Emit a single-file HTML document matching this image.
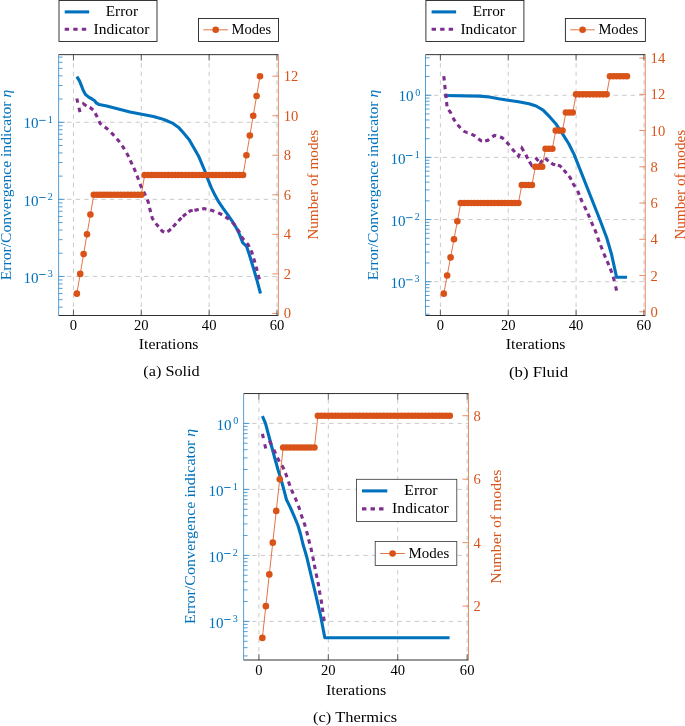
<!DOCTYPE html>
<html><head><meta charset="utf-8"><style>
html,body{margin:0;padding:0;background:#fff;}
svg{display:block;will-change:transform;}
text{font-family:"Liberation Serif", serif;}
</style></head><body>
<svg width="685" height="726" viewBox="0 0 685 726">
<rect width="685" height="726" fill="#fff"/>
<line x1="73.45" y1="315.5" x2="73.45" y2="54.65" stroke="#bdbdbd" stroke-width="0.8" stroke-dasharray="4.4 4.15"/>
<line x1="141.29" y1="315.5" x2="141.29" y2="54.65" stroke="#bdbdbd" stroke-width="0.8" stroke-dasharray="4.4 4.15"/>
<line x1="209.13" y1="315.5" x2="209.13" y2="54.65" stroke="#bdbdbd" stroke-width="0.8" stroke-dasharray="4.4 4.15"/>
<line x1="276.97" y1="315.5" x2="276.97" y2="54.65" stroke="#bdbdbd" stroke-width="0.8" stroke-dasharray="4.4 4.15"/>
<line x1="58.6" y1="122.25" x2="278.4" y2="122.25" stroke="#bdbdbd" stroke-width="0.8" stroke-dasharray="4.4 4.15"/>
<line x1="58.6" y1="199.35" x2="278.4" y2="199.35" stroke="#bdbdbd" stroke-width="0.8" stroke-dasharray="4.4 4.15"/>
<line x1="58.6" y1="276.45" x2="278.4" y2="276.45" stroke="#bdbdbd" stroke-width="0.8" stroke-dasharray="4.4 4.15"/>
<line x1="58.6" y1="307.13" x2="62.6" y2="307.13" stroke="#2b86cc" stroke-width="0.8"/>
<line x1="58.6" y1="299.66" x2="62.6" y2="299.66" stroke="#2b86cc" stroke-width="0.8"/>
<line x1="58.6" y1="293.55" x2="62.6" y2="293.55" stroke="#2b86cc" stroke-width="0.8"/>
<line x1="58.6" y1="288.39" x2="62.6" y2="288.39" stroke="#2b86cc" stroke-width="0.8"/>
<line x1="58.6" y1="283.92" x2="62.6" y2="283.92" stroke="#2b86cc" stroke-width="0.8"/>
<line x1="58.6" y1="279.98" x2="62.6" y2="279.98" stroke="#2b86cc" stroke-width="0.8"/>
<line x1="58.6" y1="253.24" x2="62.6" y2="253.24" stroke="#2b86cc" stroke-width="0.8"/>
<line x1="58.6" y1="239.66" x2="62.6" y2="239.66" stroke="#2b86cc" stroke-width="0.8"/>
<line x1="58.6" y1="230.03" x2="62.6" y2="230.03" stroke="#2b86cc" stroke-width="0.8"/>
<line x1="58.6" y1="222.56" x2="62.6" y2="222.56" stroke="#2b86cc" stroke-width="0.8"/>
<line x1="58.6" y1="216.45" x2="62.6" y2="216.45" stroke="#2b86cc" stroke-width="0.8"/>
<line x1="58.6" y1="211.29" x2="62.6" y2="211.29" stroke="#2b86cc" stroke-width="0.8"/>
<line x1="58.6" y1="206.82" x2="62.6" y2="206.82" stroke="#2b86cc" stroke-width="0.8"/>
<line x1="58.6" y1="202.88" x2="62.6" y2="202.88" stroke="#2b86cc" stroke-width="0.8"/>
<line x1="58.6" y1="176.14" x2="62.6" y2="176.14" stroke="#2b86cc" stroke-width="0.8"/>
<line x1="58.6" y1="162.56" x2="62.6" y2="162.56" stroke="#2b86cc" stroke-width="0.8"/>
<line x1="58.6" y1="152.93" x2="62.6" y2="152.93" stroke="#2b86cc" stroke-width="0.8"/>
<line x1="58.6" y1="145.46" x2="62.6" y2="145.46" stroke="#2b86cc" stroke-width="0.8"/>
<line x1="58.6" y1="139.35" x2="62.6" y2="139.35" stroke="#2b86cc" stroke-width="0.8"/>
<line x1="58.6" y1="134.19" x2="62.6" y2="134.19" stroke="#2b86cc" stroke-width="0.8"/>
<line x1="58.6" y1="129.72" x2="62.6" y2="129.72" stroke="#2b86cc" stroke-width="0.8"/>
<line x1="58.6" y1="125.78" x2="62.6" y2="125.78" stroke="#2b86cc" stroke-width="0.8"/>
<line x1="58.6" y1="99.04" x2="62.6" y2="99.04" stroke="#2b86cc" stroke-width="0.8"/>
<line x1="58.6" y1="85.46" x2="62.6" y2="85.46" stroke="#2b86cc" stroke-width="0.8"/>
<line x1="58.6" y1="75.83" x2="62.6" y2="75.83" stroke="#2b86cc" stroke-width="0.8"/>
<line x1="58.6" y1="68.36" x2="62.6" y2="68.36" stroke="#2b86cc" stroke-width="0.8"/>
<line x1="58.6" y1="62.25" x2="62.6" y2="62.25" stroke="#2b86cc" stroke-width="0.8"/>
<line x1="58.6" y1="57.09" x2="62.6" y2="57.09" stroke="#2b86cc" stroke-width="0.8"/>
<line x1="58.6" y1="122.25" x2="64.6" y2="122.25" stroke="#2b86cc" stroke-width="0.8"/>
<line x1="58.6" y1="199.35" x2="64.6" y2="199.35" stroke="#2b86cc" stroke-width="0.8"/>
<line x1="58.6" y1="276.45" x2="64.6" y2="276.45" stroke="#2b86cc" stroke-width="0.8"/>
<line x1="272.4" y1="313.42" x2="278.4" y2="313.42" stroke="#e0713f" stroke-width="0.8"/>
<line x1="272.4" y1="273.88" x2="278.4" y2="273.88" stroke="#e0713f" stroke-width="0.8"/>
<line x1="272.4" y1="234.34" x2="278.4" y2="234.34" stroke="#e0713f" stroke-width="0.8"/>
<line x1="272.4" y1="194.8" x2="278.4" y2="194.8" stroke="#e0713f" stroke-width="0.8"/>
<line x1="272.4" y1="155.26" x2="278.4" y2="155.26" stroke="#e0713f" stroke-width="0.8"/>
<line x1="272.4" y1="115.72" x2="278.4" y2="115.72" stroke="#e0713f" stroke-width="0.8"/>
<line x1="272.4" y1="76.18" x2="278.4" y2="76.18" stroke="#e0713f" stroke-width="0.8"/>
<line x1="73.45" y1="54.65" x2="73.45" y2="60.65" stroke="#444" stroke-width="0.8"/>
<line x1="73.45" y1="315.5" x2="73.45" y2="309.5" stroke="#444" stroke-width="0.8"/>
<line x1="141.29" y1="54.65" x2="141.29" y2="60.65" stroke="#444" stroke-width="0.8"/>
<line x1="141.29" y1="315.5" x2="141.29" y2="309.5" stroke="#444" stroke-width="0.8"/>
<line x1="209.13" y1="54.65" x2="209.13" y2="60.65" stroke="#444" stroke-width="0.8"/>
<line x1="209.13" y1="315.5" x2="209.13" y2="309.5" stroke="#444" stroke-width="0.8"/>
<line x1="276.97" y1="54.65" x2="276.97" y2="60.65" stroke="#444" stroke-width="0.8"/>
<line x1="276.97" y1="315.5" x2="276.97" y2="309.5" stroke="#444" stroke-width="0.8"/>
<line x1="58.6" y1="54.65" x2="278.4" y2="54.65" stroke="#1a1a1a" stroke-width="0.9"/>
<line x1="58.6" y1="315.5" x2="278.4" y2="315.5" stroke="#1a1a1a" stroke-width="0.9"/>
<line x1="58.6" y1="54.65" x2="58.6" y2="315.5" stroke="#2b86cc" stroke-width="0.8"/>
<line x1="278.4" y1="54.65" x2="278.4" y2="315.5" stroke="#e0713f" stroke-width="0.8"/>
<polyline points="76.85,76.6 79.5,80.9 81.6,86.1 83.4,90.8 85.5,94.5 88.7,97.1 92.3,99.2 94.7,100.8 96.5,103.2 99.1,104.5 106.7,106.1 118.4,109 130,111.9 141.7,114.3 153.4,116.6 160.4,118.4 165,120 172.4,123.1 178.6,127.4 183.6,133 189.2,139.8 193.5,147.2 198.5,155.9 202.2,164.6 205.3,172 208.4,180.7 211.5,188.1 215.2,195.6 218.9,202.2 223.3,208.6 227.7,214.7 232,220.8 236,227.4 239.5,234.4 242.8,242.9 246.4,246 248.8,252.9 251.5,261.8 254.2,270.8 256.8,279.7 260.5,293.5" fill="none" stroke="#0072BD" stroke-width="3.1" stroke-linejoin="round"/>
<path d="M76.8 98.5 L77.79 102.72 M78.97 107.76 L79.98 112.04 M83.27 104.89 L83.6 104 L86.46 105.93 M89.6 107.52 L90.4 107.9 L93.15 110.08 M95.25 113.33 L97.2 117 L97.3 117.22 M99.05 121.07 L100.2 123.6 L101.51 124.56 M104.72 126.9 L106.5 128.2 L108.09 129.72 M111.11 132.58 L112.7 134.1 L114.16 135.74 M116.89 138.79 L118.5 140.6 L119.64 142.21 M122.03 145.6 L123.3 147.4 L124.41 149.3 M126.59 153 L127.7 154.9 L128.64 156.89 M130.26 160.31 L131.2 162.3 L132.13 164.29 M133.77 167.81 L134.7 169.8 L135.5 171.85 M137 175.65 L137.8 177.7 L138.55 179.77 M140.05 183.93 L140.8 186 L141.79 187.96 M143.65 191.62 L144.5 193.3 L145.5 195.61 M147.22 199.58 L148.1 201.6 L148.61 203.74 M149.59 207.86 L150.1 210 L150.66 212.13 M151.74 216.17 L152.3 218.3 L153.57 220.1 M155.83 223.3 L157.1 225.1 L158.53 226.77 M160.83 229.48 L162.3 231.2 L164.26 232.06 M167.37 231.56 L169.3 230.5 L170.84 228.93 M173.01 226.72 L174.6 225.1 L176.05 223.54 M178.46 220.96 L180.1 219.2 L181.54 217.83 M182.91 216.52 L184.5 215 L186.29 213.72 M188.69 212.02 L190.4 210.8 L192.68 210.47 M194.42 210.22 L196.6 209.9 L198.77 209.52 M202.17 208.92 L204 208.6 L206.47 209.2 M210.16 210.08 L212.3 210.6 L214.35 211.4 M218.15 212.9 L220.2 213.7 L222.07 214.85 M225.33 216.85 L227.2 218 L228.84 219.47 M232.16 222.43 L233.8 223.9 L235.04 225.71 M237.36 229.09 L238.6 230.9 L239.64 232.84 M241.56 236.46 L242.6 238.4 L244.06 240.04 M246.84 243.16 L248.3 244.8 L249.24 246.79 M250.96 250.41 L251.9 252.4 L252.52 254.51 M253.68 258.39 L254.3 260.5 L254.91 262.61 M256.09 266.69 L256.7 268.8 L257.24 270.93 M258.26 274.97 L258.8 277.1 L259.45 279.2" fill="none" stroke="#7E2F8E" stroke-width="3.1" stroke-linejoin="miter" stroke-linecap="butt"/>
<polyline points="76.84,293.65 80.23,273.88 83.63,254.11 87.02,234.34 90.41,214.57 93.8,194.8 97.19,194.8 100.59,194.8 103.98,194.8 107.37,194.8 110.76,194.8 114.15,194.8 117.55,194.8 120.94,194.8 124.33,194.8 127.72,194.8 131.11,194.8 134.51,194.8 137.9,194.8 141.29,194.8 144.68,175.03 148.07,175.03 151.47,175.03 154.86,175.03 158.25,175.03 161.64,175.03 165.03,175.03 168.43,175.03 171.82,175.03 175.21,175.03 178.6,175.03 181.99,175.03 185.39,175.03 188.78,175.03 192.17,175.03 195.56,175.03 198.95,175.03 202.35,175.03 205.74,175.03 209.13,175.03 212.52,175.03 215.91,175.03 219.31,175.03 222.7,175.03 226.09,175.03 229.48,175.03 232.87,175.03 236.27,175.03 239.66,175.03 243.05,175.03 246.44,155.26 249.83,135.49 253.23,115.72 256.62,95.95 260.01,76.18" fill="none" stroke="#D95319" stroke-width="0.8"/>
<circle cx="76.84" cy="293.65" r="3.3" fill="#D95319"/>
<circle cx="80.23" cy="273.88" r="3.3" fill="#D95319"/>
<circle cx="83.63" cy="254.11" r="3.3" fill="#D95319"/>
<circle cx="87.02" cy="234.34" r="3.3" fill="#D95319"/>
<circle cx="90.41" cy="214.57" r="3.3" fill="#D95319"/>
<circle cx="93.8" cy="194.8" r="3.3" fill="#D95319"/>
<circle cx="97.19" cy="194.8" r="3.3" fill="#D95319"/>
<circle cx="100.59" cy="194.8" r="3.3" fill="#D95319"/>
<circle cx="103.98" cy="194.8" r="3.3" fill="#D95319"/>
<circle cx="107.37" cy="194.8" r="3.3" fill="#D95319"/>
<circle cx="110.76" cy="194.8" r="3.3" fill="#D95319"/>
<circle cx="114.15" cy="194.8" r="3.3" fill="#D95319"/>
<circle cx="117.55" cy="194.8" r="3.3" fill="#D95319"/>
<circle cx="120.94" cy="194.8" r="3.3" fill="#D95319"/>
<circle cx="124.33" cy="194.8" r="3.3" fill="#D95319"/>
<circle cx="127.72" cy="194.8" r="3.3" fill="#D95319"/>
<circle cx="131.11" cy="194.8" r="3.3" fill="#D95319"/>
<circle cx="134.51" cy="194.8" r="3.3" fill="#D95319"/>
<circle cx="137.9" cy="194.8" r="3.3" fill="#D95319"/>
<circle cx="141.29" cy="194.8" r="3.3" fill="#D95319"/>
<circle cx="144.68" cy="175.03" r="3.3" fill="#D95319"/>
<circle cx="148.07" cy="175.03" r="3.3" fill="#D95319"/>
<circle cx="151.47" cy="175.03" r="3.3" fill="#D95319"/>
<circle cx="154.86" cy="175.03" r="3.3" fill="#D95319"/>
<circle cx="158.25" cy="175.03" r="3.3" fill="#D95319"/>
<circle cx="161.64" cy="175.03" r="3.3" fill="#D95319"/>
<circle cx="165.03" cy="175.03" r="3.3" fill="#D95319"/>
<circle cx="168.43" cy="175.03" r="3.3" fill="#D95319"/>
<circle cx="171.82" cy="175.03" r="3.3" fill="#D95319"/>
<circle cx="175.21" cy="175.03" r="3.3" fill="#D95319"/>
<circle cx="178.6" cy="175.03" r="3.3" fill="#D95319"/>
<circle cx="181.99" cy="175.03" r="3.3" fill="#D95319"/>
<circle cx="185.39" cy="175.03" r="3.3" fill="#D95319"/>
<circle cx="188.78" cy="175.03" r="3.3" fill="#D95319"/>
<circle cx="192.17" cy="175.03" r="3.3" fill="#D95319"/>
<circle cx="195.56" cy="175.03" r="3.3" fill="#D95319"/>
<circle cx="198.95" cy="175.03" r="3.3" fill="#D95319"/>
<circle cx="202.35" cy="175.03" r="3.3" fill="#D95319"/>
<circle cx="205.74" cy="175.03" r="3.3" fill="#D95319"/>
<circle cx="209.13" cy="175.03" r="3.3" fill="#D95319"/>
<circle cx="212.52" cy="175.03" r="3.3" fill="#D95319"/>
<circle cx="215.91" cy="175.03" r="3.3" fill="#D95319"/>
<circle cx="219.31" cy="175.03" r="3.3" fill="#D95319"/>
<circle cx="222.7" cy="175.03" r="3.3" fill="#D95319"/>
<circle cx="226.09" cy="175.03" r="3.3" fill="#D95319"/>
<circle cx="229.48" cy="175.03" r="3.3" fill="#D95319"/>
<circle cx="232.87" cy="175.03" r="3.3" fill="#D95319"/>
<circle cx="236.27" cy="175.03" r="3.3" fill="#D95319"/>
<circle cx="239.66" cy="175.03" r="3.3" fill="#D95319"/>
<circle cx="243.05" cy="175.03" r="3.3" fill="#D95319"/>
<circle cx="246.44" cy="155.26" r="3.3" fill="#D95319"/>
<circle cx="249.83" cy="135.49" r="3.3" fill="#D95319"/>
<circle cx="253.23" cy="115.72" r="3.3" fill="#D95319"/>
<circle cx="256.62" cy="95.95" r="3.3" fill="#D95319"/>
<circle cx="260.01" cy="76.18" r="3.3" fill="#D95319"/>
<text x="73.45" y="330.1" font-size="14.6" fill="#000" text-anchor="middle">0</text>
<text x="141.29" y="330.1" font-size="14.6" fill="#000" text-anchor="middle">20</text>
<text x="209.13" y="330.1" font-size="14.6" fill="#000" text-anchor="middle">40</text>
<text x="276.97" y="330.1" font-size="14.6" fill="#000" text-anchor="middle">60</text>
<rect x="39.2" y="119.9" width="6.4" height="0.9" fill="#0072BD"/>
<text x="47.86" y="122.85" font-size="10.1" fill="#0072BD">1</text>
<text x="23.57" y="128.45" font-size="15.1" fill="#0072BD">10</text>
<rect x="39.2" y="197" width="6.4" height="0.9" fill="#0072BD"/>
<text x="47.81" y="199.95" font-size="10.1" fill="#0072BD">2</text>
<text x="23.57" y="205.55" font-size="15.1" fill="#0072BD">10</text>
<rect x="39.2" y="274.1" width="6.4" height="0.9" fill="#0072BD"/>
<text x="47.64" y="277.05" font-size="10.1" fill="#0072BD">3</text>
<text x="23.57" y="282.65" font-size="15.1" fill="#0072BD">10</text>
<text x="283.7" y="318.42" font-size="14.6" fill="#D95319">0</text>
<text x="283.7" y="278.88" font-size="14.6" fill="#D95319">2</text>
<text x="283.7" y="239.34" font-size="14.6" fill="#D95319">4</text>
<text x="283.7" y="199.8" font-size="14.6" fill="#D95319">6</text>
<text x="283.7" y="160.26" font-size="14.6" fill="#D95319">8</text>
<text x="283.7" y="120.72" font-size="14.6" fill="#D95319">10</text>
<text x="283.7" y="81.18" font-size="14.6" fill="#D95319">12</text>
<rect x="59" y="0.5" width="98" height="41" fill="#fff" stroke="#222" stroke-width="0.9"/>
<line x1="64.7" y1="11.9" x2="89.2" y2="11.9" stroke="#0072BD" stroke-width="3.1"/>
<line x1="64.7" y1="29.3" x2="89.2" y2="29.3" stroke="#7E2F8E" stroke-width="3.1" stroke-dasharray="4.4 4.15"/>
<text x="105.8" y="15.9" font-size="14.1" fill="#000" textLength="32.2" lengthAdjust="spacingAndGlyphs">Error</text>
<text x="93.5" y="33.8" font-size="14.1" fill="#000" textLength="56" lengthAdjust="spacingAndGlyphs">Indicator</text>
<rect x="198.5" y="18.5" width="80" height="23" fill="#fff" stroke="#222" stroke-width="0.9"/>
<line x1="203.3" y1="29.8" x2="227.9" y2="29.8" stroke="#D95319" stroke-width="0.8"/>
<circle cx="215.7" cy="29.8" r="3.3" fill="#D95319"/>
<text x="231.5" y="33.7" font-size="14.1" fill="#000" textLength="39.7" lengthAdjust="spacingAndGlyphs">Modes</text>
<text x="168.6" y="349.1" font-size="14.1" fill="#000" text-anchor="middle" textLength="59.7" lengthAdjust="spacingAndGlyphs">Iterations</text>
<text x="171.5" y="376.3" font-size="14.1" fill="#000" text-anchor="middle" textLength="56.4" lengthAdjust="spacingAndGlyphs">(a) Solid</text>
<text transform="translate(10.8,185.05) rotate(-90)" x="0" y="0" font-size="14.1" fill="#0072BD" text-anchor="middle" textLength="190.5" lengthAdjust="spacingAndGlyphs">Error/Convergence indicator <tspan font-style="italic">η</tspan></text>
<text transform="translate(318,184.75) rotate(-90)" x="0" y="0" font-size="14.1" fill="#D95319" text-anchor="middle" textLength="110.1" lengthAdjust="spacingAndGlyphs">Number of modes</text>
<line x1="440.4" y1="315.5" x2="440.4" y2="54.65" stroke="#bdbdbd" stroke-width="0.8" stroke-dasharray="4.4 4.15"/>
<line x1="508.24" y1="315.5" x2="508.24" y2="54.65" stroke="#bdbdbd" stroke-width="0.8" stroke-dasharray="4.4 4.15"/>
<line x1="576.08" y1="315.5" x2="576.08" y2="54.65" stroke="#bdbdbd" stroke-width="0.8" stroke-dasharray="4.4 4.15"/>
<line x1="643.92" y1="315.5" x2="643.92" y2="54.65" stroke="#bdbdbd" stroke-width="0.8" stroke-dasharray="4.4 4.15"/>
<line x1="425.5" y1="95.25" x2="645.3" y2="95.25" stroke="#bdbdbd" stroke-width="0.8" stroke-dasharray="4.4 4.15"/>
<line x1="425.5" y1="157.4" x2="645.3" y2="157.4" stroke="#bdbdbd" stroke-width="0.8" stroke-dasharray="4.4 4.15"/>
<line x1="425.5" y1="219.55" x2="645.3" y2="219.55" stroke="#bdbdbd" stroke-width="0.8" stroke-dasharray="4.4 4.15"/>
<line x1="425.5" y1="281.7" x2="645.3" y2="281.7" stroke="#bdbdbd" stroke-width="0.8" stroke-dasharray="4.4 4.15"/>
<line x1="425.5" y1="314.2" x2="429.5" y2="314.2" stroke="#2b86cc" stroke-width="0.8"/>
<line x1="425.5" y1="306.43" x2="429.5" y2="306.43" stroke="#2b86cc" stroke-width="0.8"/>
<line x1="425.5" y1="300.41" x2="429.5" y2="300.41" stroke="#2b86cc" stroke-width="0.8"/>
<line x1="425.5" y1="295.49" x2="429.5" y2="295.49" stroke="#2b86cc" stroke-width="0.8"/>
<line x1="425.5" y1="291.33" x2="429.5" y2="291.33" stroke="#2b86cc" stroke-width="0.8"/>
<line x1="425.5" y1="287.72" x2="429.5" y2="287.72" stroke="#2b86cc" stroke-width="0.8"/>
<line x1="425.5" y1="284.54" x2="429.5" y2="284.54" stroke="#2b86cc" stroke-width="0.8"/>
<line x1="425.5" y1="262.99" x2="429.5" y2="262.99" stroke="#2b86cc" stroke-width="0.8"/>
<line x1="425.5" y1="252.05" x2="429.5" y2="252.05" stroke="#2b86cc" stroke-width="0.8"/>
<line x1="425.5" y1="244.28" x2="429.5" y2="244.28" stroke="#2b86cc" stroke-width="0.8"/>
<line x1="425.5" y1="238.26" x2="429.5" y2="238.26" stroke="#2b86cc" stroke-width="0.8"/>
<line x1="425.5" y1="233.34" x2="429.5" y2="233.34" stroke="#2b86cc" stroke-width="0.8"/>
<line x1="425.5" y1="229.18" x2="429.5" y2="229.18" stroke="#2b86cc" stroke-width="0.8"/>
<line x1="425.5" y1="225.57" x2="429.5" y2="225.57" stroke="#2b86cc" stroke-width="0.8"/>
<line x1="425.5" y1="222.39" x2="429.5" y2="222.39" stroke="#2b86cc" stroke-width="0.8"/>
<line x1="425.5" y1="200.84" x2="429.5" y2="200.84" stroke="#2b86cc" stroke-width="0.8"/>
<line x1="425.5" y1="189.9" x2="429.5" y2="189.9" stroke="#2b86cc" stroke-width="0.8"/>
<line x1="425.5" y1="182.13" x2="429.5" y2="182.13" stroke="#2b86cc" stroke-width="0.8"/>
<line x1="425.5" y1="176.11" x2="429.5" y2="176.11" stroke="#2b86cc" stroke-width="0.8"/>
<line x1="425.5" y1="171.19" x2="429.5" y2="171.19" stroke="#2b86cc" stroke-width="0.8"/>
<line x1="425.5" y1="167.03" x2="429.5" y2="167.03" stroke="#2b86cc" stroke-width="0.8"/>
<line x1="425.5" y1="163.42" x2="429.5" y2="163.42" stroke="#2b86cc" stroke-width="0.8"/>
<line x1="425.5" y1="160.24" x2="429.5" y2="160.24" stroke="#2b86cc" stroke-width="0.8"/>
<line x1="425.5" y1="138.69" x2="429.5" y2="138.69" stroke="#2b86cc" stroke-width="0.8"/>
<line x1="425.5" y1="127.75" x2="429.5" y2="127.75" stroke="#2b86cc" stroke-width="0.8"/>
<line x1="425.5" y1="119.98" x2="429.5" y2="119.98" stroke="#2b86cc" stroke-width="0.8"/>
<line x1="425.5" y1="113.96" x2="429.5" y2="113.96" stroke="#2b86cc" stroke-width="0.8"/>
<line x1="425.5" y1="109.04" x2="429.5" y2="109.04" stroke="#2b86cc" stroke-width="0.8"/>
<line x1="425.5" y1="104.88" x2="429.5" y2="104.88" stroke="#2b86cc" stroke-width="0.8"/>
<line x1="425.5" y1="101.27" x2="429.5" y2="101.27" stroke="#2b86cc" stroke-width="0.8"/>
<line x1="425.5" y1="98.09" x2="429.5" y2="98.09" stroke="#2b86cc" stroke-width="0.8"/>
<line x1="425.5" y1="76.54" x2="429.5" y2="76.54" stroke="#2b86cc" stroke-width="0.8"/>
<line x1="425.5" y1="65.6" x2="429.5" y2="65.6" stroke="#2b86cc" stroke-width="0.8"/>
<line x1="425.5" y1="57.83" x2="429.5" y2="57.83" stroke="#2b86cc" stroke-width="0.8"/>
<line x1="425.5" y1="95.25" x2="431.5" y2="95.25" stroke="#2b86cc" stroke-width="0.8"/>
<line x1="425.5" y1="157.4" x2="431.5" y2="157.4" stroke="#2b86cc" stroke-width="0.8"/>
<line x1="425.5" y1="219.55" x2="431.5" y2="219.55" stroke="#2b86cc" stroke-width="0.8"/>
<line x1="425.5" y1="281.7" x2="431.5" y2="281.7" stroke="#2b86cc" stroke-width="0.8"/>
<line x1="639.3" y1="311.78" x2="645.3" y2="311.78" stroke="#e0713f" stroke-width="0.8"/>
<line x1="639.3" y1="275.54" x2="645.3" y2="275.54" stroke="#e0713f" stroke-width="0.8"/>
<line x1="639.3" y1="239.3" x2="645.3" y2="239.3" stroke="#e0713f" stroke-width="0.8"/>
<line x1="639.3" y1="203.06" x2="645.3" y2="203.06" stroke="#e0713f" stroke-width="0.8"/>
<line x1="639.3" y1="166.82" x2="645.3" y2="166.82" stroke="#e0713f" stroke-width="0.8"/>
<line x1="639.3" y1="130.58" x2="645.3" y2="130.58" stroke="#e0713f" stroke-width="0.8"/>
<line x1="639.3" y1="94.34" x2="645.3" y2="94.34" stroke="#e0713f" stroke-width="0.8"/>
<line x1="639.3" y1="58.1" x2="645.3" y2="58.1" stroke="#e0713f" stroke-width="0.8"/>
<line x1="440.4" y1="54.65" x2="440.4" y2="60.65" stroke="#444" stroke-width="0.8"/>
<line x1="440.4" y1="315.5" x2="440.4" y2="309.5" stroke="#444" stroke-width="0.8"/>
<line x1="508.24" y1="54.65" x2="508.24" y2="60.65" stroke="#444" stroke-width="0.8"/>
<line x1="508.24" y1="315.5" x2="508.24" y2="309.5" stroke="#444" stroke-width="0.8"/>
<line x1="576.08" y1="54.65" x2="576.08" y2="60.65" stroke="#444" stroke-width="0.8"/>
<line x1="576.08" y1="315.5" x2="576.08" y2="309.5" stroke="#444" stroke-width="0.8"/>
<line x1="643.92" y1="54.65" x2="643.92" y2="60.65" stroke="#444" stroke-width="0.8"/>
<line x1="643.92" y1="315.5" x2="643.92" y2="309.5" stroke="#444" stroke-width="0.8"/>
<line x1="425.5" y1="54.65" x2="645.3" y2="54.65" stroke="#1a1a1a" stroke-width="0.9"/>
<line x1="425.5" y1="315.5" x2="645.3" y2="315.5" stroke="#1a1a1a" stroke-width="0.9"/>
<line x1="425.5" y1="54.65" x2="425.5" y2="315.5" stroke="#2b86cc" stroke-width="0.8"/>
<line x1="645.3" y1="54.65" x2="645.3" y2="315.5" stroke="#e0713f" stroke-width="0.8"/>
<polyline points="444.2,95.5 480,96.1 489.3,97 498.7,98.8 508,100.2 518.5,101.7 529,103.7 536.1,106 543.1,110.1 550,117.2 556.2,124.3 562.4,133.6 568.6,143.5 574.2,154.6 580.1,169.6 590,194.8 600,220 606.7,237.7 611.5,254.2 616.6,277.3 627,277.3" fill="none" stroke="#0072BD" stroke-width="3.1" stroke-linejoin="round"/>
<path d="M443.81 76.12 L444.28 80.49 M444.74 84.89 L445.21 89.27 M445.68 93.69 L446.14 98.07 M446.56 102.02 L447.03 106.4 M448.65 109.92 L450.6 112.5 L451.1 113.55 M453.03 117.58 L454 119.6 L455.23 121.37 M457.58 124.7 L460.56 127.94 M463.61 130.84 L464.1 131.3 L467.5 132.8 L467.51 132.8 M471.36 134.2 L474.3 135.5 L475.22 136.25 M478.32 138.76 L481.1 140.8 L482.04 140.94 M485.16 141.11 L487.9 140.3 L489.09 139.32 M492.26 136.9 L494.5 135.5 L496.22 135.84 M500.03 136.94 L502.1 137.7 L503.66 139.26 M506.44 142.04 L508 143.6 L509.38 145.31 M512.12 148.69 L513.5 150.4 L514.94 152.07 M517.41 154.94 L518.5 156.2 L519.61 153.7 M521.53 149.35 L522 148.3 L523.7 151.07 M525.82 154.78 L527.74 158.74 M529.32 161.58 L531.6 165 L531.78 164.77 M535.54 159.91 L536.4 158.8 L538.43 160.99 M539.76 162.42 L540.3 163 L542.57 160.19 M545.12 158.31 L548.51 161.1 M551.3 163.07 L553.1 164.3 L555.27 164.77 M557.85 165.33 L560 165.8 L561.45 167.45 M563.65 169.95 L565.1 171.6 L566.51 173.29 M568.84 176.07 L570.3 177.8 L571.23 179.72 M572.88 183.12 L573.5 184.4 L575.3 186.77 M577.67 190.73 L579.27 194.83 M580.5 198 L581.2 199.8 L582.29 202.01 M584.33 206.13 L585.3 208.1 L586.23 210.09 M587.87 213.61 L588.8 215.6 L589.63 217.64 M591.37 221.86 L592.2 223.9 L593.1 225.91 M594.7 229.49 L595.6 231.5 L596.31 233.58 M597.69 237.62 L598.4 239.7 L599.21 241.75 M600.59 245.25 L601.4 247.3 L602.2 249.35 M603.8 253.45 L604.6 255.5 L605.5 257.51 M607.1 261.09 L608 263.1 L608.83 265.14 M610.27 268.66 L611.1 270.7 L611.79 272.79 M613.11 276.81 L613.8 278.9 L614.31 281.04 M615.57 286.35 L616.59 290.63" fill="none" stroke="#7E2F8E" stroke-width="3.1" stroke-linejoin="miter" stroke-linecap="butt"/>
<polyline points="443.79,293.66 447.18,275.54 450.58,257.42 453.97,239.3 457.36,221.18 460.75,203.06 464.14,203.06 467.54,203.06 470.93,203.06 474.32,203.06 477.71,203.06 481.1,203.06 484.5,203.06 487.89,203.06 491.28,203.06 494.67,203.06 498.06,203.06 501.46,203.06 504.85,203.06 508.24,203.06 511.63,203.06 515.02,203.06 518.42,203.06 521.81,184.94 525.2,184.94 528.59,184.94 531.98,184.94 535.38,166.82 538.77,166.82 542.16,166.82 545.55,148.7 548.94,148.7 552.34,148.7 555.73,130.58 559.12,130.58 562.51,130.58 565.9,112.46 569.3,112.46 572.69,112.46 576.08,94.34 579.47,94.34 582.86,94.34 586.26,94.34 589.65,94.34 593.04,94.34 596.43,94.34 599.82,94.34 603.22,94.34 606.61,94.34 610,76.22 613.39,76.22 616.78,76.22 620.18,76.22 623.57,76.22 626.96,76.22" fill="none" stroke="#D95319" stroke-width="0.8"/>
<circle cx="443.79" cy="293.66" r="3.3" fill="#D95319"/>
<circle cx="447.18" cy="275.54" r="3.3" fill="#D95319"/>
<circle cx="450.58" cy="257.42" r="3.3" fill="#D95319"/>
<circle cx="453.97" cy="239.3" r="3.3" fill="#D95319"/>
<circle cx="457.36" cy="221.18" r="3.3" fill="#D95319"/>
<circle cx="460.75" cy="203.06" r="3.3" fill="#D95319"/>
<circle cx="464.14" cy="203.06" r="3.3" fill="#D95319"/>
<circle cx="467.54" cy="203.06" r="3.3" fill="#D95319"/>
<circle cx="470.93" cy="203.06" r="3.3" fill="#D95319"/>
<circle cx="474.32" cy="203.06" r="3.3" fill="#D95319"/>
<circle cx="477.71" cy="203.06" r="3.3" fill="#D95319"/>
<circle cx="481.1" cy="203.06" r="3.3" fill="#D95319"/>
<circle cx="484.5" cy="203.06" r="3.3" fill="#D95319"/>
<circle cx="487.89" cy="203.06" r="3.3" fill="#D95319"/>
<circle cx="491.28" cy="203.06" r="3.3" fill="#D95319"/>
<circle cx="494.67" cy="203.06" r="3.3" fill="#D95319"/>
<circle cx="498.06" cy="203.06" r="3.3" fill="#D95319"/>
<circle cx="501.46" cy="203.06" r="3.3" fill="#D95319"/>
<circle cx="504.85" cy="203.06" r="3.3" fill="#D95319"/>
<circle cx="508.24" cy="203.06" r="3.3" fill="#D95319"/>
<circle cx="511.63" cy="203.06" r="3.3" fill="#D95319"/>
<circle cx="515.02" cy="203.06" r="3.3" fill="#D95319"/>
<circle cx="518.42" cy="203.06" r="3.3" fill="#D95319"/>
<circle cx="521.81" cy="184.94" r="3.3" fill="#D95319"/>
<circle cx="525.2" cy="184.94" r="3.3" fill="#D95319"/>
<circle cx="528.59" cy="184.94" r="3.3" fill="#D95319"/>
<circle cx="531.98" cy="184.94" r="3.3" fill="#D95319"/>
<circle cx="535.38" cy="166.82" r="3.3" fill="#D95319"/>
<circle cx="538.77" cy="166.82" r="3.3" fill="#D95319"/>
<circle cx="542.16" cy="166.82" r="3.3" fill="#D95319"/>
<circle cx="545.55" cy="148.7" r="3.3" fill="#D95319"/>
<circle cx="548.94" cy="148.7" r="3.3" fill="#D95319"/>
<circle cx="552.34" cy="148.7" r="3.3" fill="#D95319"/>
<circle cx="555.73" cy="130.58" r="3.3" fill="#D95319"/>
<circle cx="559.12" cy="130.58" r="3.3" fill="#D95319"/>
<circle cx="562.51" cy="130.58" r="3.3" fill="#D95319"/>
<circle cx="565.9" cy="112.46" r="3.3" fill="#D95319"/>
<circle cx="569.3" cy="112.46" r="3.3" fill="#D95319"/>
<circle cx="572.69" cy="112.46" r="3.3" fill="#D95319"/>
<circle cx="576.08" cy="94.34" r="3.3" fill="#D95319"/>
<circle cx="579.47" cy="94.34" r="3.3" fill="#D95319"/>
<circle cx="582.86" cy="94.34" r="3.3" fill="#D95319"/>
<circle cx="586.26" cy="94.34" r="3.3" fill="#D95319"/>
<circle cx="589.65" cy="94.34" r="3.3" fill="#D95319"/>
<circle cx="593.04" cy="94.34" r="3.3" fill="#D95319"/>
<circle cx="596.43" cy="94.34" r="3.3" fill="#D95319"/>
<circle cx="599.82" cy="94.34" r="3.3" fill="#D95319"/>
<circle cx="603.22" cy="94.34" r="3.3" fill="#D95319"/>
<circle cx="606.61" cy="94.34" r="3.3" fill="#D95319"/>
<circle cx="610" cy="76.22" r="3.3" fill="#D95319"/>
<circle cx="613.39" cy="76.22" r="3.3" fill="#D95319"/>
<circle cx="616.78" cy="76.22" r="3.3" fill="#D95319"/>
<circle cx="620.18" cy="76.22" r="3.3" fill="#D95319"/>
<circle cx="623.57" cy="76.22" r="3.3" fill="#D95319"/>
<circle cx="626.96" cy="76.22" r="3.3" fill="#D95319"/>
<text x="440.4" y="330.1" font-size="14.6" fill="#000" text-anchor="middle">0</text>
<text x="508.24" y="330.1" font-size="14.6" fill="#000" text-anchor="middle">20</text>
<text x="576.08" y="330.1" font-size="14.6" fill="#000" text-anchor="middle">40</text>
<text x="643.92" y="330.1" font-size="14.6" fill="#000" text-anchor="middle">60</text>
<text x="415.23" y="95.85" font-size="10.1" fill="#0072BD">0</text>
<text x="398.47" y="101.45" font-size="15.1" fill="#0072BD">10</text>
<rect x="406.1" y="155.05" width="6.4" height="0.9" fill="#0072BD"/>
<text x="414.76" y="158" font-size="10.1" fill="#0072BD">1</text>
<text x="390.47" y="163.6" font-size="15.1" fill="#0072BD">10</text>
<rect x="406.1" y="217.2" width="6.4" height="0.9" fill="#0072BD"/>
<text x="414.71" y="220.15" font-size="10.1" fill="#0072BD">2</text>
<text x="390.47" y="225.75" font-size="15.1" fill="#0072BD">10</text>
<rect x="406.1" y="279.35" width="6.4" height="0.9" fill="#0072BD"/>
<text x="414.54" y="282.3" font-size="10.1" fill="#0072BD">3</text>
<text x="390.47" y="287.9" font-size="15.1" fill="#0072BD">10</text>
<text x="650.6" y="316.78" font-size="14.6" fill="#D95319">0</text>
<text x="650.6" y="280.54" font-size="14.6" fill="#D95319">2</text>
<text x="650.6" y="244.3" font-size="14.6" fill="#D95319">4</text>
<text x="650.6" y="208.06" font-size="14.6" fill="#D95319">6</text>
<text x="650.6" y="171.82" font-size="14.6" fill="#D95319">8</text>
<text x="650.6" y="135.58" font-size="14.6" fill="#D95319">10</text>
<text x="650.6" y="99.34" font-size="14.6" fill="#D95319">12</text>
<text x="650.6" y="63.1" font-size="14.6" fill="#D95319">14</text>
<rect x="425.9" y="0.5" width="98" height="41" fill="#fff" stroke="#222" stroke-width="0.9"/>
<line x1="431.6" y1="11.9" x2="456.1" y2="11.9" stroke="#0072BD" stroke-width="3.1"/>
<line x1="431.6" y1="29.3" x2="456.1" y2="29.3" stroke="#7E2F8E" stroke-width="3.1" stroke-dasharray="4.4 4.15"/>
<text x="472.7" y="15.9" font-size="14.1" fill="#000" textLength="32.2" lengthAdjust="spacingAndGlyphs">Error</text>
<text x="460.4" y="33.8" font-size="14.1" fill="#000" textLength="56" lengthAdjust="spacingAndGlyphs">Indicator</text>
<rect x="565.4" y="18.5" width="80" height="23" fill="#fff" stroke="#222" stroke-width="0.9"/>
<line x1="570.2" y1="29.8" x2="594.8" y2="29.8" stroke="#D95319" stroke-width="0.8"/>
<circle cx="582.6" cy="29.8" r="3.3" fill="#D95319"/>
<text x="598.4" y="33.7" font-size="14.1" fill="#000" textLength="39.7" lengthAdjust="spacingAndGlyphs">Modes</text>
<text x="535.65" y="349.2" font-size="14.1" fill="#000" text-anchor="middle" textLength="59.7" lengthAdjust="spacingAndGlyphs">Iterations</text>
<text x="538.5" y="376.5" font-size="14.1" fill="#000" text-anchor="middle" textLength="59.1" lengthAdjust="spacingAndGlyphs">(b) Fluid</text>
<text transform="translate(377.7,185.05) rotate(-90)" x="0" y="0" font-size="14.1" fill="#0072BD" text-anchor="middle" textLength="190.5" lengthAdjust="spacingAndGlyphs">Error/Convergence indicator <tspan font-style="italic">η</tspan></text>
<text transform="translate(685,184.75) rotate(-90)" x="0" y="0" font-size="14.1" fill="#D95319" text-anchor="middle" textLength="110.1" lengthAdjust="spacingAndGlyphs">Number of modes</text>
<line x1="258.9" y1="660" x2="258.9" y2="393.55" stroke="#bdbdbd" stroke-width="0.8" stroke-dasharray="4.4 4.15"/>
<line x1="328.32" y1="660" x2="328.32" y2="393.55" stroke="#bdbdbd" stroke-width="0.8" stroke-dasharray="4.4 4.15"/>
<line x1="397.74" y1="660" x2="397.74" y2="393.55" stroke="#bdbdbd" stroke-width="0.8" stroke-dasharray="4.4 4.15"/>
<line x1="467.16" y1="660" x2="467.16" y2="393.55" stroke="#bdbdbd" stroke-width="0.8" stroke-dasharray="4.4 4.15"/>
<line x1="243.6" y1="423.4" x2="468.5" y2="423.4" stroke="#bdbdbd" stroke-width="0.8" stroke-dasharray="4.4 4.15"/>
<line x1="243.6" y1="489.4" x2="468.5" y2="489.4" stroke="#bdbdbd" stroke-width="0.8" stroke-dasharray="4.4 4.15"/>
<line x1="243.6" y1="555.4" x2="468.5" y2="555.4" stroke="#bdbdbd" stroke-width="0.8" stroke-dasharray="4.4 4.15"/>
<line x1="243.6" y1="621.4" x2="468.5" y2="621.4" stroke="#bdbdbd" stroke-width="0.8" stroke-dasharray="4.4 4.15"/>
<line x1="243.6" y1="655.91" x2="247.6" y2="655.91" stroke="#2b86cc" stroke-width="0.8"/>
<line x1="243.6" y1="647.66" x2="247.6" y2="647.66" stroke="#2b86cc" stroke-width="0.8"/>
<line x1="243.6" y1="641.27" x2="247.6" y2="641.27" stroke="#2b86cc" stroke-width="0.8"/>
<line x1="243.6" y1="636.04" x2="247.6" y2="636.04" stroke="#2b86cc" stroke-width="0.8"/>
<line x1="243.6" y1="631.62" x2="247.6" y2="631.62" stroke="#2b86cc" stroke-width="0.8"/>
<line x1="243.6" y1="627.8" x2="247.6" y2="627.8" stroke="#2b86cc" stroke-width="0.8"/>
<line x1="243.6" y1="624.42" x2="247.6" y2="624.42" stroke="#2b86cc" stroke-width="0.8"/>
<line x1="243.6" y1="601.53" x2="247.6" y2="601.53" stroke="#2b86cc" stroke-width="0.8"/>
<line x1="243.6" y1="589.91" x2="247.6" y2="589.91" stroke="#2b86cc" stroke-width="0.8"/>
<line x1="243.6" y1="581.66" x2="247.6" y2="581.66" stroke="#2b86cc" stroke-width="0.8"/>
<line x1="243.6" y1="575.27" x2="247.6" y2="575.27" stroke="#2b86cc" stroke-width="0.8"/>
<line x1="243.6" y1="570.04" x2="247.6" y2="570.04" stroke="#2b86cc" stroke-width="0.8"/>
<line x1="243.6" y1="565.62" x2="247.6" y2="565.62" stroke="#2b86cc" stroke-width="0.8"/>
<line x1="243.6" y1="561.8" x2="247.6" y2="561.8" stroke="#2b86cc" stroke-width="0.8"/>
<line x1="243.6" y1="558.42" x2="247.6" y2="558.42" stroke="#2b86cc" stroke-width="0.8"/>
<line x1="243.6" y1="535.53" x2="247.6" y2="535.53" stroke="#2b86cc" stroke-width="0.8"/>
<line x1="243.6" y1="523.91" x2="247.6" y2="523.91" stroke="#2b86cc" stroke-width="0.8"/>
<line x1="243.6" y1="515.66" x2="247.6" y2="515.66" stroke="#2b86cc" stroke-width="0.8"/>
<line x1="243.6" y1="509.27" x2="247.6" y2="509.27" stroke="#2b86cc" stroke-width="0.8"/>
<line x1="243.6" y1="504.04" x2="247.6" y2="504.04" stroke="#2b86cc" stroke-width="0.8"/>
<line x1="243.6" y1="499.62" x2="247.6" y2="499.62" stroke="#2b86cc" stroke-width="0.8"/>
<line x1="243.6" y1="495.8" x2="247.6" y2="495.8" stroke="#2b86cc" stroke-width="0.8"/>
<line x1="243.6" y1="492.42" x2="247.6" y2="492.42" stroke="#2b86cc" stroke-width="0.8"/>
<line x1="243.6" y1="469.53" x2="247.6" y2="469.53" stroke="#2b86cc" stroke-width="0.8"/>
<line x1="243.6" y1="457.91" x2="247.6" y2="457.91" stroke="#2b86cc" stroke-width="0.8"/>
<line x1="243.6" y1="449.66" x2="247.6" y2="449.66" stroke="#2b86cc" stroke-width="0.8"/>
<line x1="243.6" y1="443.27" x2="247.6" y2="443.27" stroke="#2b86cc" stroke-width="0.8"/>
<line x1="243.6" y1="438.04" x2="247.6" y2="438.04" stroke="#2b86cc" stroke-width="0.8"/>
<line x1="243.6" y1="433.62" x2="247.6" y2="433.62" stroke="#2b86cc" stroke-width="0.8"/>
<line x1="243.6" y1="429.8" x2="247.6" y2="429.8" stroke="#2b86cc" stroke-width="0.8"/>
<line x1="243.6" y1="426.42" x2="247.6" y2="426.42" stroke="#2b86cc" stroke-width="0.8"/>
<line x1="243.6" y1="423.4" x2="249.6" y2="423.4" stroke="#2b86cc" stroke-width="0.8"/>
<line x1="243.6" y1="489.4" x2="249.6" y2="489.4" stroke="#2b86cc" stroke-width="0.8"/>
<line x1="243.6" y1="555.4" x2="249.6" y2="555.4" stroke="#2b86cc" stroke-width="0.8"/>
<line x1="243.6" y1="621.4" x2="249.6" y2="621.4" stroke="#2b86cc" stroke-width="0.8"/>
<line x1="462.5" y1="606.14" x2="468.5" y2="606.14" stroke="#e0713f" stroke-width="0.8"/>
<line x1="462.5" y1="542.66" x2="468.5" y2="542.66" stroke="#e0713f" stroke-width="0.8"/>
<line x1="462.5" y1="479.18" x2="468.5" y2="479.18" stroke="#e0713f" stroke-width="0.8"/>
<line x1="462.5" y1="415.7" x2="468.5" y2="415.7" stroke="#e0713f" stroke-width="0.8"/>
<line x1="258.9" y1="393.55" x2="258.9" y2="399.55" stroke="#444" stroke-width="0.8"/>
<line x1="258.9" y1="660" x2="258.9" y2="654" stroke="#444" stroke-width="0.8"/>
<line x1="328.32" y1="393.55" x2="328.32" y2="399.55" stroke="#444" stroke-width="0.8"/>
<line x1="328.32" y1="660" x2="328.32" y2="654" stroke="#444" stroke-width="0.8"/>
<line x1="397.74" y1="393.55" x2="397.74" y2="399.55" stroke="#444" stroke-width="0.8"/>
<line x1="397.74" y1="660" x2="397.74" y2="654" stroke="#444" stroke-width="0.8"/>
<line x1="467.16" y1="393.55" x2="467.16" y2="399.55" stroke="#444" stroke-width="0.8"/>
<line x1="467.16" y1="660" x2="467.16" y2="654" stroke="#444" stroke-width="0.8"/>
<line x1="243.6" y1="393.55" x2="468.5" y2="393.55" stroke="#1a1a1a" stroke-width="0.9"/>
<line x1="243.6" y1="660" x2="468.5" y2="660" stroke="#1a1a1a" stroke-width="0.9"/>
<line x1="243.6" y1="393.55" x2="243.6" y2="660" stroke="#2b86cc" stroke-width="0.8"/>
<line x1="468.5" y1="393.55" x2="468.5" y2="660" stroke="#e0713f" stroke-width="0.8"/>
<polyline points="262.4,416.1 265.5,423.4 269.9,440 274.2,456 278.1,470 281.2,480 283.8,489.4 286.4,499.5 290.4,507.6 294.1,516.2 297.8,525 300.5,534 303.2,545 306.3,555.2 311,575 315.8,595 320.8,616.7 324.8,637.8 449.6,637.8" fill="none" stroke="#0072BD" stroke-width="3.1" stroke-linejoin="round"/>
<path d="M262.42 433.91 L263.38 438.2 M264.73 444.22 L265.69 448.51 M269.4 440.79 L271.36 444.73 M273.76 449.62 L275.64 453.6 M277.49 457.63 L279.31 461.64 M281.72 465.48 L283.1 467.5 L283.85 469.3 M285.42 473.11 L286.2 475 L286.97 477.22 M288.48 481.54 L289.2 483.6 L289.99 485.68 M291.5 489.61 L292.3 491.7 L293.2 493.67 M294.99 497.6 L296 499.8 L296.71 501.64 M298.31 505.75 L299.1 507.8 L299.75 509.9 M301.15 514.4 L301.8 516.5 L302.55 518.57 M303.95 522.43 L304.7 524.5 L305.29 526.62 M306.51 531.08 L307.1 533.2 L307.63 535.33 M308.62 539.28 L309.2 541.6 L309.7 543.54 M310.77 547.74 L311.3 549.8 L311.77 552.03 M312.72 556.53 L313.2 558.8 L313.59 560.84 M314.35 564.77 L314.8 567.1 L315.2 569.08 M316.11 573.56 L316.6 576 L317 577.86 M317.91 582.03 L318.4 584.3 L318.73 586.35 M319.4 590.5 L319.8 593 L320.14 594.84 M321 599.44 L321.4 601.6 L321.72 603.78 M322.28 607.62 L322.6 609.8 L322.91 611.98 M323.59 616.62 L323.9 618.8 L324.42 620.94" fill="none" stroke="#7E2F8E" stroke-width="3.1" stroke-linejoin="miter" stroke-linecap="butt"/>
<polyline points="262.37,637.88 265.84,606.14 269.31,574.4 272.78,542.66 276.25,510.92 279.73,479.18 283.2,447.44 286.67,447.44 290.14,447.44 293.61,447.44 297.08,447.44 300.55,447.44 304.02,447.44 307.49,447.44 310.96,447.44 314.44,447.44 317.91,415.7 321.38,415.7 324.85,415.7 328.32,415.7 331.79,415.7 335.26,415.7 338.73,415.7 342.2,415.7 345.67,415.7 349.15,415.7 352.62,415.7 356.09,415.7 359.56,415.7 363.03,415.7 366.5,415.7 369.97,415.7 373.44,415.7 376.91,415.7 380.38,415.7 383.86,415.7 387.33,415.7 390.8,415.7 394.27,415.7 397.74,415.7 401.21,415.7 404.68,415.7 408.15,415.7 411.62,415.7 415.09,415.7 418.57,415.7 422.04,415.7 425.51,415.7 428.98,415.7 432.45,415.7 435.92,415.7 439.39,415.7 442.86,415.7 446.33,415.7 449.8,415.7" fill="none" stroke="#D95319" stroke-width="0.8"/>
<circle cx="262.37" cy="637.88" r="3.3" fill="#D95319"/>
<circle cx="265.84" cy="606.14" r="3.3" fill="#D95319"/>
<circle cx="269.31" cy="574.4" r="3.3" fill="#D95319"/>
<circle cx="272.78" cy="542.66" r="3.3" fill="#D95319"/>
<circle cx="276.25" cy="510.92" r="3.3" fill="#D95319"/>
<circle cx="279.73" cy="479.18" r="3.3" fill="#D95319"/>
<circle cx="283.2" cy="447.44" r="3.3" fill="#D95319"/>
<circle cx="286.67" cy="447.44" r="3.3" fill="#D95319"/>
<circle cx="290.14" cy="447.44" r="3.3" fill="#D95319"/>
<circle cx="293.61" cy="447.44" r="3.3" fill="#D95319"/>
<circle cx="297.08" cy="447.44" r="3.3" fill="#D95319"/>
<circle cx="300.55" cy="447.44" r="3.3" fill="#D95319"/>
<circle cx="304.02" cy="447.44" r="3.3" fill="#D95319"/>
<circle cx="307.49" cy="447.44" r="3.3" fill="#D95319"/>
<circle cx="310.96" cy="447.44" r="3.3" fill="#D95319"/>
<circle cx="314.44" cy="447.44" r="3.3" fill="#D95319"/>
<circle cx="317.91" cy="415.7" r="3.3" fill="#D95319"/>
<circle cx="321.38" cy="415.7" r="3.3" fill="#D95319"/>
<circle cx="324.85" cy="415.7" r="3.3" fill="#D95319"/>
<circle cx="328.32" cy="415.7" r="3.3" fill="#D95319"/>
<circle cx="331.79" cy="415.7" r="3.3" fill="#D95319"/>
<circle cx="335.26" cy="415.7" r="3.3" fill="#D95319"/>
<circle cx="338.73" cy="415.7" r="3.3" fill="#D95319"/>
<circle cx="342.2" cy="415.7" r="3.3" fill="#D95319"/>
<circle cx="345.67" cy="415.7" r="3.3" fill="#D95319"/>
<circle cx="349.15" cy="415.7" r="3.3" fill="#D95319"/>
<circle cx="352.62" cy="415.7" r="3.3" fill="#D95319"/>
<circle cx="356.09" cy="415.7" r="3.3" fill="#D95319"/>
<circle cx="359.56" cy="415.7" r="3.3" fill="#D95319"/>
<circle cx="363.03" cy="415.7" r="3.3" fill="#D95319"/>
<circle cx="366.5" cy="415.7" r="3.3" fill="#D95319"/>
<circle cx="369.97" cy="415.7" r="3.3" fill="#D95319"/>
<circle cx="373.44" cy="415.7" r="3.3" fill="#D95319"/>
<circle cx="376.91" cy="415.7" r="3.3" fill="#D95319"/>
<circle cx="380.38" cy="415.7" r="3.3" fill="#D95319"/>
<circle cx="383.86" cy="415.7" r="3.3" fill="#D95319"/>
<circle cx="387.33" cy="415.7" r="3.3" fill="#D95319"/>
<circle cx="390.8" cy="415.7" r="3.3" fill="#D95319"/>
<circle cx="394.27" cy="415.7" r="3.3" fill="#D95319"/>
<circle cx="397.74" cy="415.7" r="3.3" fill="#D95319"/>
<circle cx="401.21" cy="415.7" r="3.3" fill="#D95319"/>
<circle cx="404.68" cy="415.7" r="3.3" fill="#D95319"/>
<circle cx="408.15" cy="415.7" r="3.3" fill="#D95319"/>
<circle cx="411.62" cy="415.7" r="3.3" fill="#D95319"/>
<circle cx="415.09" cy="415.7" r="3.3" fill="#D95319"/>
<circle cx="418.57" cy="415.7" r="3.3" fill="#D95319"/>
<circle cx="422.04" cy="415.7" r="3.3" fill="#D95319"/>
<circle cx="425.51" cy="415.7" r="3.3" fill="#D95319"/>
<circle cx="428.98" cy="415.7" r="3.3" fill="#D95319"/>
<circle cx="432.45" cy="415.7" r="3.3" fill="#D95319"/>
<circle cx="435.92" cy="415.7" r="3.3" fill="#D95319"/>
<circle cx="439.39" cy="415.7" r="3.3" fill="#D95319"/>
<circle cx="442.86" cy="415.7" r="3.3" fill="#D95319"/>
<circle cx="446.33" cy="415.7" r="3.3" fill="#D95319"/>
<circle cx="449.8" cy="415.7" r="3.3" fill="#D95319"/>
<text x="258.9" y="674.6" font-size="14.6" fill="#000" text-anchor="middle">0</text>
<text x="328.32" y="674.6" font-size="14.6" fill="#000" text-anchor="middle">20</text>
<text x="397.74" y="674.6" font-size="14.6" fill="#000" text-anchor="middle">40</text>
<text x="467.16" y="674.6" font-size="14.6" fill="#000" text-anchor="middle">60</text>
<text x="233.33" y="424" font-size="10.1" fill="#0072BD">0</text>
<text x="216.57" y="429.6" font-size="15.1" fill="#0072BD">10</text>
<rect x="224.2" y="487.05" width="6.4" height="0.9" fill="#0072BD"/>
<text x="232.86" y="490" font-size="10.1" fill="#0072BD">1</text>
<text x="208.57" y="495.6" font-size="15.1" fill="#0072BD">10</text>
<rect x="224.2" y="553.05" width="6.4" height="0.9" fill="#0072BD"/>
<text x="232.81" y="556" font-size="10.1" fill="#0072BD">2</text>
<text x="208.57" y="561.6" font-size="15.1" fill="#0072BD">10</text>
<rect x="224.2" y="619.05" width="6.4" height="0.9" fill="#0072BD"/>
<text x="232.64" y="622" font-size="10.1" fill="#0072BD">3</text>
<text x="208.57" y="627.6" font-size="15.1" fill="#0072BD">10</text>
<text x="473.4" y="611.14" font-size="14.6" fill="#D95319">2</text>
<text x="473.4" y="547.66" font-size="14.6" fill="#D95319">4</text>
<text x="473.4" y="484.18" font-size="14.6" fill="#D95319">6</text>
<text x="473.4" y="420.7" font-size="14.6" fill="#D95319">8</text>
<rect x="356.4" y="479.3" width="100.4" height="42.1" fill="#fff" stroke="#333" stroke-width="0.8"/>
<line x1="362" y1="490.9" x2="387.3" y2="490.9" stroke="#0072BD" stroke-width="3.1"/>
<line x1="362" y1="508.9" x2="387.3" y2="508.9" stroke="#7E2F8E" stroke-width="3.1" stroke-dasharray="4.4 4.15"/>
<text x="404.3" y="495.2" font-size="14.4" fill="#000" textLength="33.2" lengthAdjust="spacingAndGlyphs">Error</text>
<text x="392.1" y="513.4" font-size="14.4" fill="#000" textLength="56.7" lengthAdjust="spacingAndGlyphs">Indicator</text>
<rect x="375.2" y="541.5" width="81.6" height="24.1" fill="#fff" stroke="#333" stroke-width="0.8"/>
<line x1="380.2" y1="553.5" x2="404.9" y2="553.5" stroke="#D95319" stroke-width="0.8"/>
<circle cx="392.6" cy="553.5" r="3.3" fill="#D95319"/>
<text x="408.6" y="557.5" font-size="14.4" fill="#000" textLength="40.6" lengthAdjust="spacingAndGlyphs">Modes</text>
<text x="356.05" y="694.7" font-size="14.4" fill="#000" text-anchor="middle" textLength="60.3" lengthAdjust="spacingAndGlyphs">Iterations</text>
<text x="355.15" y="722.2" font-size="14.4" fill="#000" text-anchor="middle" textLength="84.1" lengthAdjust="spacingAndGlyphs">(c) Thermics</text>
<text transform="translate(194.9,526.35) rotate(-90)" x="0" y="0" font-size="14.4" fill="#0072BD" text-anchor="middle" textLength="195.1" lengthAdjust="spacingAndGlyphs">Error/Convergence indicator <tspan font-style="italic">η</tspan></text>
<text transform="translate(501.3,526.7) rotate(-90)" x="0" y="0" font-size="14.4" fill="#D95319" text-anchor="middle" textLength="114" lengthAdjust="spacingAndGlyphs">Number of modes</text>
</svg></body></html>
